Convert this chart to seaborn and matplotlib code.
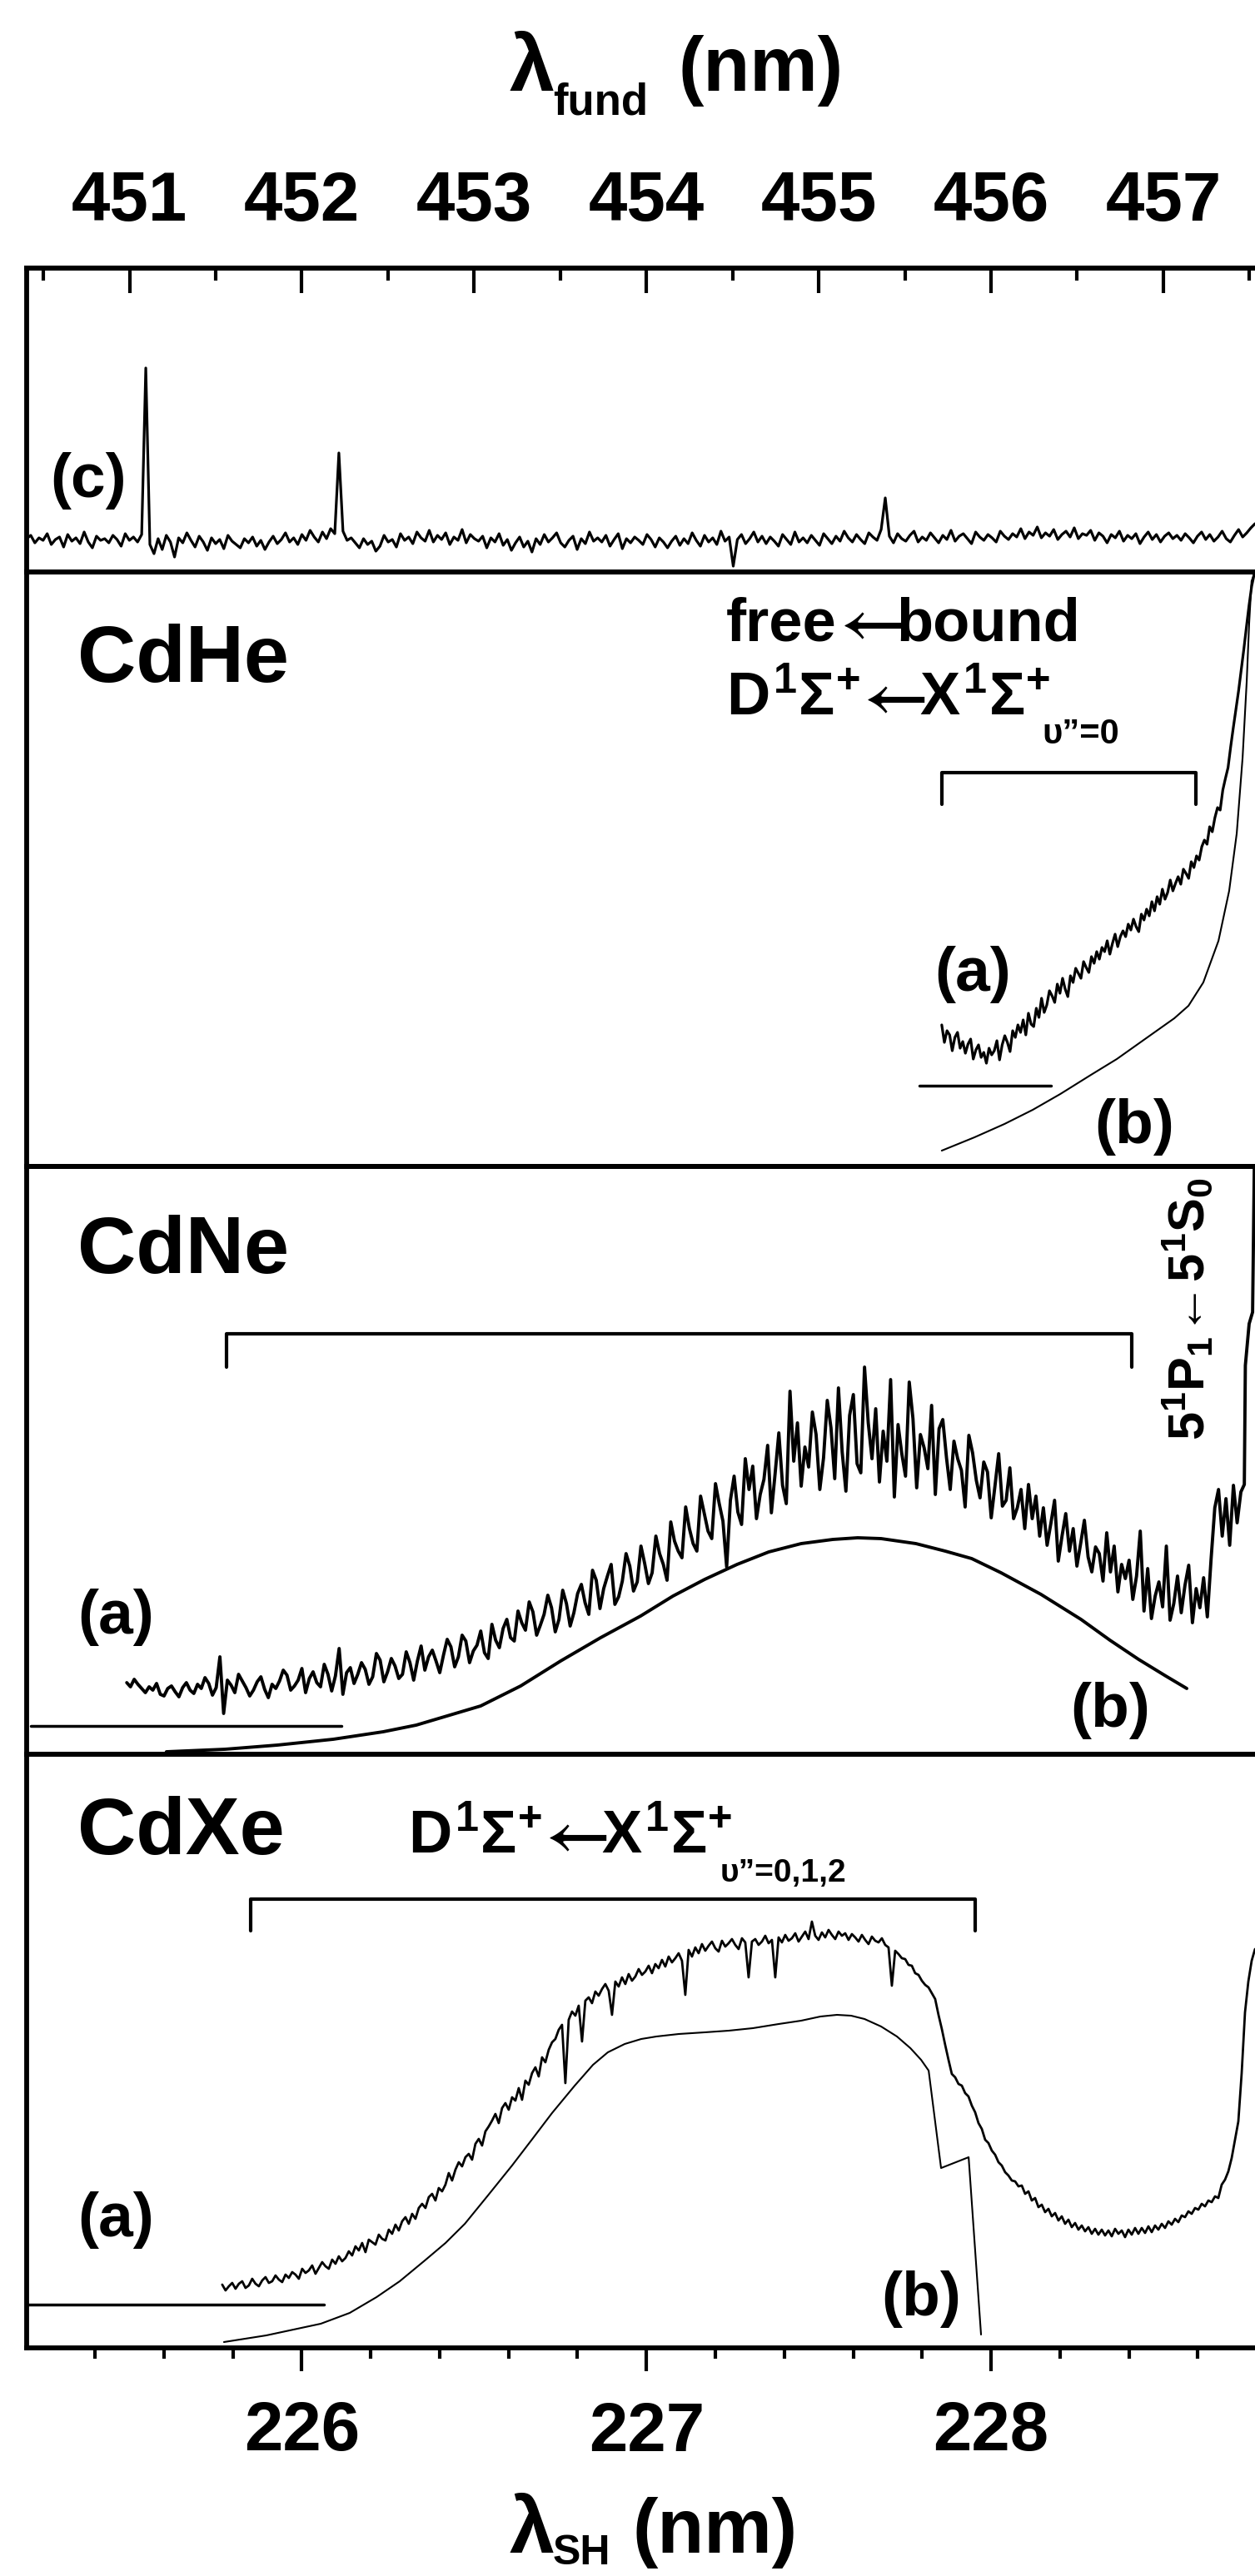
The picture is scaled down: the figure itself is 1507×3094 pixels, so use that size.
import numpy as np
import matplotlib
matplotlib.use("Agg")
import matplotlib.pyplot as plt
from matplotlib.ticker import FixedLocator
import seaborn as sns

sns.set_style("white")
plt.rcParams["font.family"] = ["Liberation Sans", "DejaVu Sans"]
plt.rcParams["font.weight"] = "bold"
plt.rcParams["text.color"] = "black"
plt.rcParams["axes.edgecolor"] = "black"
plt.rcParams["axes.labelcolor"] = "black"
plt.rcParams["xtick.color"] = "black"
plt.rcParams["ytick.color"] = "black"
plt.rcParams["mathtext.fontset"] = "custom"
plt.rcParams["mathtext.rm"] = "Liberation Sans:bold"
plt.rcParams["mathtext.it"] = "Liberation Sans:bold"
plt.rcParams["mathtext.bf"] = "Liberation Sans:bold"
plt.rcParams["mathtext.sf"] = "Liberation Sans:bold"

# ---------------- data ----------------
XLIM_SH = (225.2015, 228.766)          # second-harmonic wavelength (nm)
FUND_TICKS = [451, 452, 453, 454, 455, 456, 457]
FUND_MINOR = [450.5, 451.5, 452.5, 453.5, 454.5, 455.5, 456.5, 457.5]
SH_TICKS = [226, 227, 228]
SH_MINOR = [225.2, 225.4, 225.6, 225.8, 226.2, 226.4, 226.6, 226.8, 227.2,
            227.4, 227.6, 227.8, 228.2, 228.4, 228.6]

# panel (c): fundamental scan (x in fundamental nm)
c_fund = np.linspace(450.403, 457.532, 300)
c_sig = [
    40,44,35,41,38,46,33,39,42,30,45,37,41,34,48,36,29,43,38,40,
    35,44,39,31,46,38,42,36,45,245,33,22,40,27,44,36,18,41,35,47,
    38,30,43,36,26,41,34,39,28,44,37,33,29,40,35,42,31,38,27,36,
    43,34,39,47,36,41,33,45,38,50,42,36,48,40,52,46,143,49,38,41,
    35,29,40,33,37,25,31,44,36,39,30,46,38,42,34,48,41,37,50,36,
    44,39,47,33,42,38,51,35,45,40,37,43,29,41,36,46,32,39,26,35,
    42,30,37,24,40,33,45,36,41,47,35,30,38,43,27,40,34,48,37,41,
    36,44,31,39,46,28,40,35,42,38,33,45,39,30,41,36,29,37,43,32,
    40,34,47,38,31,44,36,41,33,49,37,42,7,39,45,34,40,48,36,43,
    34,42,37,31,45,39,33,48,36,41,35,44,38,32,46,40,34,43,37,49,
    41,36,45,39,34,47,42,38,51,89,43,35,46,40,37,44,49,36,42,38,
    47,41,35,44,39,50,37,43,46,40,34,48,42,38,45,41,36,49,43,39,
    46,42,52,40,48,44,54,41,47,43,51,39,45,49,42,53,40,46,44,50,
    38,47,43,35,45,41,49,37,44,40,46,34,42,48,39,45,36,43,47,40,
    44,38,46,41,35,43,48,39,45,37,42,49,40,36,44,51,42,47,53,58]

# CdHe
he_x = np.linspace(227.857, 228.764, 120)
he_a = [
    170,149,163,158,139,155,161,142,150,136,
    147,153,129,140,146,131,137,124,142,134,
    139,151,128,146,157,149,138,163,155,170,
    161,176,158,184,171,168,190,179,202,185,
    194,211,205,197,219,208,226,213,204,229,
    221,238,232,226,246,239,233,252,244,258,
    249,263,258,271,255,268,279,264,276,283,
    276,291,284,297,288,282,303,296,309,301,
    318,307,324,315,333,321,329,344,331,340,
    348,339,357,352,346,366,359,373,368,384,
    392,387,408,402,419,431,428,452,466,479,
    504,527,549,571,596,621,648,674,697,712]
he_fit_x = [227.857, 227.952, 228.039, 228.121, 228.201, 228.290, 228.365,
            228.474, 228.532, 228.573, 228.616, 228.660, 228.691, 228.713,
            228.730, 228.742, 228.749, 228.756, 228.764]
he_fit_y = [19, 35, 51, 68, 87, 110, 129, 161, 178, 193, 221, 271, 331, 400,
            491, 583, 652, 703, 712]
he_base_x = [227.792, 228.174]
he_base_y = [97, 97]
he_brk_x = [227.857, 227.857, 228.594, 228.594]
he_brk_y = [435, 473, 473, 435]

# CdNe
ne_x = np.linspace(225.492, 228.725, 300)
ne_a = [
    86,81,90,84,79,74,81,77,85,72,70,79,82,75,69,80,86,77,73,84,
    79,92,85,71,80,117,49,89,83,74,96,88,80,70,77,87,93,78,68,84,
    79,88,101,95,77,82,89,103,74,91,99,86,81,108,96,76,94,127,72,98,
    104,85,96,110,102,84,93,121,113,87,99,115,106,91,96,123,110,89,112,130,
    101,117,125,112,98,119,138,129,105,117,143,136,110,124,131,148,122,115,156,137,
    128,151,162,140,136,172,158,149,183,171,143,155,168,191,176,147,162,197,181,154,
    170,193,204,182,168,221,209,175,199,214,228,180,189,208,241,226,196,207,250,229,
    205,218,262,241,228,209,279,256,244,236,297,271,253,244,310,289,268,259,325,301,
    280,225,305,334,291,276,355,318,346,283,312,330,371,290,337,386,323,301,436,352,
    398,322,369,345,411,384,318,356,425,392,331,440,363,316,407,432,349,338,465,398,
    355,415,327,388,352,450,309,396,361,334,447,403,320,384,368,343,419,312,391,402,
    356,318,376,355,341,297,383,362,329,308,351,339,284,322,361,298,305,344,283,296,
    318,271,324,283,310,262,296,251,277,305,232,262,289,244,271,226,253,281,237,219,
    249,241,208,266,219,250,195,228,211,233,186,214,268,172,223,163,190,207,177,250,
    161,181,214,170,203,227,158,199,176,212,165,234,296,318,262,307,251,323,278,315]
ne_edge_x = [228.735, 228.738, 228.749, 228.759, 228.764]
ne_edge_y = [324, 467, 517, 531, 706]
ne_fit_x = [225.607, 225.777, 225.929, 226.091, 226.236, 226.332, 226.519,
            226.635, 226.751, 226.867, 226.983, 227.077, 227.169, 227.263,
            227.355, 227.449, 227.541, 227.613, 227.681, 227.782, 227.867,
            227.944, 228.029, 228.145, 228.261, 228.345, 228.428, 228.507,
            228.568]
ne_fit_y = [3, 6, 11, 18, 27, 35, 58, 82, 112, 140, 166, 190, 210, 228, 243,
            253, 258, 260, 259, 253, 244, 235, 218, 192, 162, 137, 114, 94, 79]
ne_base_x = [225.214, 226.115]
ne_base_y = [34, 34]
ne_brk_x = [225.781, 225.781, 228.408, 228.408]
ne_brk_y = [465, 505, 505, 465]

# CdXe
xe_x = np.linspace(225.769, 228.766, 311)
xe_a = [
    76,69,74,78,71,77,80,72,75,83,77,74,81,85,78,80,87,82,79,88,
    84,91,88,83,95,90,93,99,89,96,103,98,95,106,101,110,104,108,116,111,
    122,117,126,115,130,127,124,136,131,129,142,137,148,141,152,157,149,161,155,168,
    173,168,181,185,177,192,188,196,210,201,214,223,218,229,233,226,245,251,243,260,
    266,273,281,270,288,294,286,301,297,312,298,321,316,330,337,326,349,343,358,367,
    371,382,388,318,394,404,399,411,368,417,421,414,428,423,431,437,429,400,440,434,
    445,437,449,441,446,455,448,452,459,450,461,456,466,458,470,463,468,474,465,424,
    478,470,481,474,485,477,483,488,480,476,489,482,486,491,484,479,492,487,445,488,
    491,484,488,495,486,490,445,493,487,496,489,492,498,488,494,500,491,512,495,490,
    499,493,502,496,491,500,495,498,490,497,493,488,496,490,485,494,489,487,492,484,
    481,435,477,473,468,467,460,459,450,448,441,436,433,426,419,400,383,364,346,329,
    325,317,315,306,302,291,283,270,263,250,246,237,232,223,219,211,207,201,200,194,
    195,185,188,177,180,169,172,163,167,158,162,153,158,149,154,145,150,142,147,140,
    145,137,143,136,142,135,141,134,143,137,141,133,142,136,144,137,144,138,146,139,
    147,142,149,144,152,148,155,151,159,157,164,161,168,166,173,170,177,175,182,180,
    196,202,212,228,250,272,330,403,440,465,479]
xe_fit_x = [225.774, 225.897, 226.055, 226.139, 226.217, 226.284, 226.357,
            226.417, 226.473, 226.538, 226.610, 226.671, 226.726, 226.792,
            226.845, 226.888, 226.937, 226.985, 227.029, 227.094, 227.169,
            227.239, 227.309, 227.384, 227.449, 227.505, 227.553, 227.594,
            227.633, 227.681, 227.727, 227.766, 227.797, 227.819, 227.855,
            227.935, 227.971]
xe_fit_y = [7, 15, 29, 42, 61, 80, 105, 126, 149, 182, 219, 252, 282, 315,
            340, 355, 365, 371, 374, 377, 379, 381, 384, 389, 393, 398, 400,
            399, 395, 386, 374, 360, 346, 333, 216, 229, 16]
xe_base_x = [225.206, 226.064]
xe_base_y = [52, 52]
xe_brk_x = [225.852, 225.852, 227.954, 227.954]
xe_brk_y = [501, 539, 539, 501]

# ---------------- layout (pixels) ----------------
W, H = 1507, 3094
LEFT = 32
PANELS = {"c": (322, 687), "he": (687, 1401), "ne": (1401, 2107), "xe": (2107, 2820)}
LIB = ["Liberation Sans", "DejaVu Sans"]

fig = plt.figure(figsize=(W / 100, H / 100), dpi=100)
renderer = fig.canvas.get_renderer()


def add_ax(key):
    top, bot = PANELS[key]
    ax = fig.add_axes([LEFT / W, 1 - bot / H, (W - LEFT) / W, (bot - top) / H])
    ax.set_xlim(*XLIM_SH)
    ax.set_ylim(0, bot - top)
    ax.set_facecolor("none")
    for s in ("left", "top", "bottom"):
        ax.spines[s].set_linewidth(4.2)
        ax.spines[s].set_color("black")
    ax.spines["right"].set_visible(False)
    ax.tick_params(axis="y", left=False, labelleft=False)
    ax.tick_params(axis="x", bottom=False, labelbottom=False, top=False)
    return ax


def txt(px, py, s, size, family=None, weight="bold", **kw):
    kw.setdefault("ha", "left")
    kw.setdefault("va", "baseline")
    return fig.text(px / W, 1 - py / H, s, fontsize=size, fontweight=weight,
                    family=family or LIB, color="black", **kw)


def arrow_piece(size):
    return (r"$\leftarrow$", size, {"math_fontfamily": "stix"}, -9, -7)


def chain(px, py, pieces):
    x = px
    for s, size, extra, pre, post in pieces:
        x += pre
        t = txt(x, py, s, size, **extra)
        x += t.get_window_extent(renderer=renderer).width + post


def line(ax, x, y, lw):
    sns.lineplot(x=np.asarray(x, float), y=np.asarray(y, float), ax=ax,
                 color="black", linewidth=lw, estimator=None, sort=False,
                 legend=False)


ax_c = add_ax("c")
ax_he = add_ax("he")
ax_ne = add_ax("ne")
ax_xe = add_ax("xe")

# panel (c)
line(ax_c, c_fund / 2.0, c_sig, 2.3)
sec = ax_c.secondary_xaxis("top", functions=(lambda x: 2 * x, lambda x: x / 2))
sec.set_xticks(FUND_TICKS)
sec.set_xticklabels([str(t) for t in FUND_TICKS])
sec.xaxis.set_minor_locator(FixedLocator(FUND_MINOR))
sec.tick_params(which="major", direction="in", length=21.6, width=3,
                pad=29, labelsize=60, colors="black")
sec.tick_params(which="minor", direction="in", length=10.8, width=3,
                colors="black")
sec.spines["top"].set_linewidth(4.2)
sec.spines["top"].set_color("black")
for lab in sec.get_xticklabels():
    lab.set_fontweight("bold")

# CdHe
line(ax_he, he_x, he_a, 2.3)
line(ax_he, he_fit_x, he_fit_y, 1.5)
line(ax_he, he_base_x, he_base_y, 2.5)
line(ax_he, he_brk_x, he_brk_y, 3.0)

# CdNe
line(ax_ne, np.concatenate([ne_x, ne_edge_x]), list(ne_a) + list(ne_edge_y), 2.8)
line(ax_ne, ne_fit_x, ne_fit_y, 2.8)
line(ax_ne, ne_base_x, ne_base_y, 2.5)
line(ax_ne, ne_brk_x, ne_brk_y, 3.0)

# CdXe
line(ax_xe, xe_x, xe_a, 2.0)
line(ax_xe, xe_fit_x, xe_fit_y, 1.5)
line(ax_xe, xe_base_x, xe_base_y, 2.5)
line(ax_xe, xe_brk_x, xe_brk_y, 3.0)

ax_xe.tick_params(axis="x", bottom=True, labelbottom=True)
ax_xe.set_xticks(SH_TICKS)
ax_xe.set_xticklabels([str(t) for t in SH_TICKS])
ax_xe.xaxis.set_minor_locator(FixedLocator(SH_MINOR))
ax_xe.tick_params(axis="x", which="major", direction="out", length=20,
                  width=3, pad=25, labelsize=60, colors="black")
ax_xe.tick_params(axis="x", which="minor", direction="out", length=9.4,
                  width=3, bottom=True, colors="black")
for lab in ax_xe.get_xticklabels():
    lab.set_fontweight("bold")
for ax in (ax_c, ax_he, ax_ne, ax_xe):
    ax.set_xlabel("")
    ax.set_ylabel("")
    ax.set_xlim(*XLIM_SH)

# ---------------- texts ----------------
# axis titles
txt(612, 109, "\u03bb", 70)
txt(664, 138, "fund", 38)
txt(815, 109, "(nm)", 66)
txt(612, 3066, "\u03bb", 70)
txt(664, 3080, "SH", 36)
txt(760, 3066, "(nm)", 66)

txt(60, 597, "(c)", 54)

txt(93, 819, "CdHe", 70)
chain(872, 770, [("free", 52, {}, 0, 0), arrow_piece(58), ("bound", 52, {}, 0, 0)])
chain(872, 859, [(r"$D^{1}\Sigma^{+}$", 52, {}, 0, 0), arrow_piece(58),
                 (r"$X^{1}\Sigma^{+}$", 52, {}, 0, 0)])
txt(1251, 893, "\u03c5\u201d=0", 30)
txt(1122, 1190, "(a)", 54)
txt(1314, 1373, "(b)", 54)

txt(93, 1529, "CdNe", 70)
txt(93, 1962, "(a)", 54)
txt(1285, 2074, "(b)", 54)
txt(1427, 1572, r"$5^{1}P_{1}\!\leftarrow\!5^{1}S_{0}$", 44,
    rotation=90, ha="center", va="center")

txt(93, 2227, "CdXe", 70)
chain(490, 2226, [(r"$D^{1}\Sigma^{+}$", 52, {}, 0, 0), arrow_piece(58),
                  (r"$X^{1}\Sigma^{+}$", 52, {}, 0, 0)])
txt(865, 2260, "\u03c5\u201d=0,1,2", 28)
txt(93, 2686, "(a)", 54)
txt(1058, 2781, "(b)", 54)

fig.savefig("out.png", dpi=100)
